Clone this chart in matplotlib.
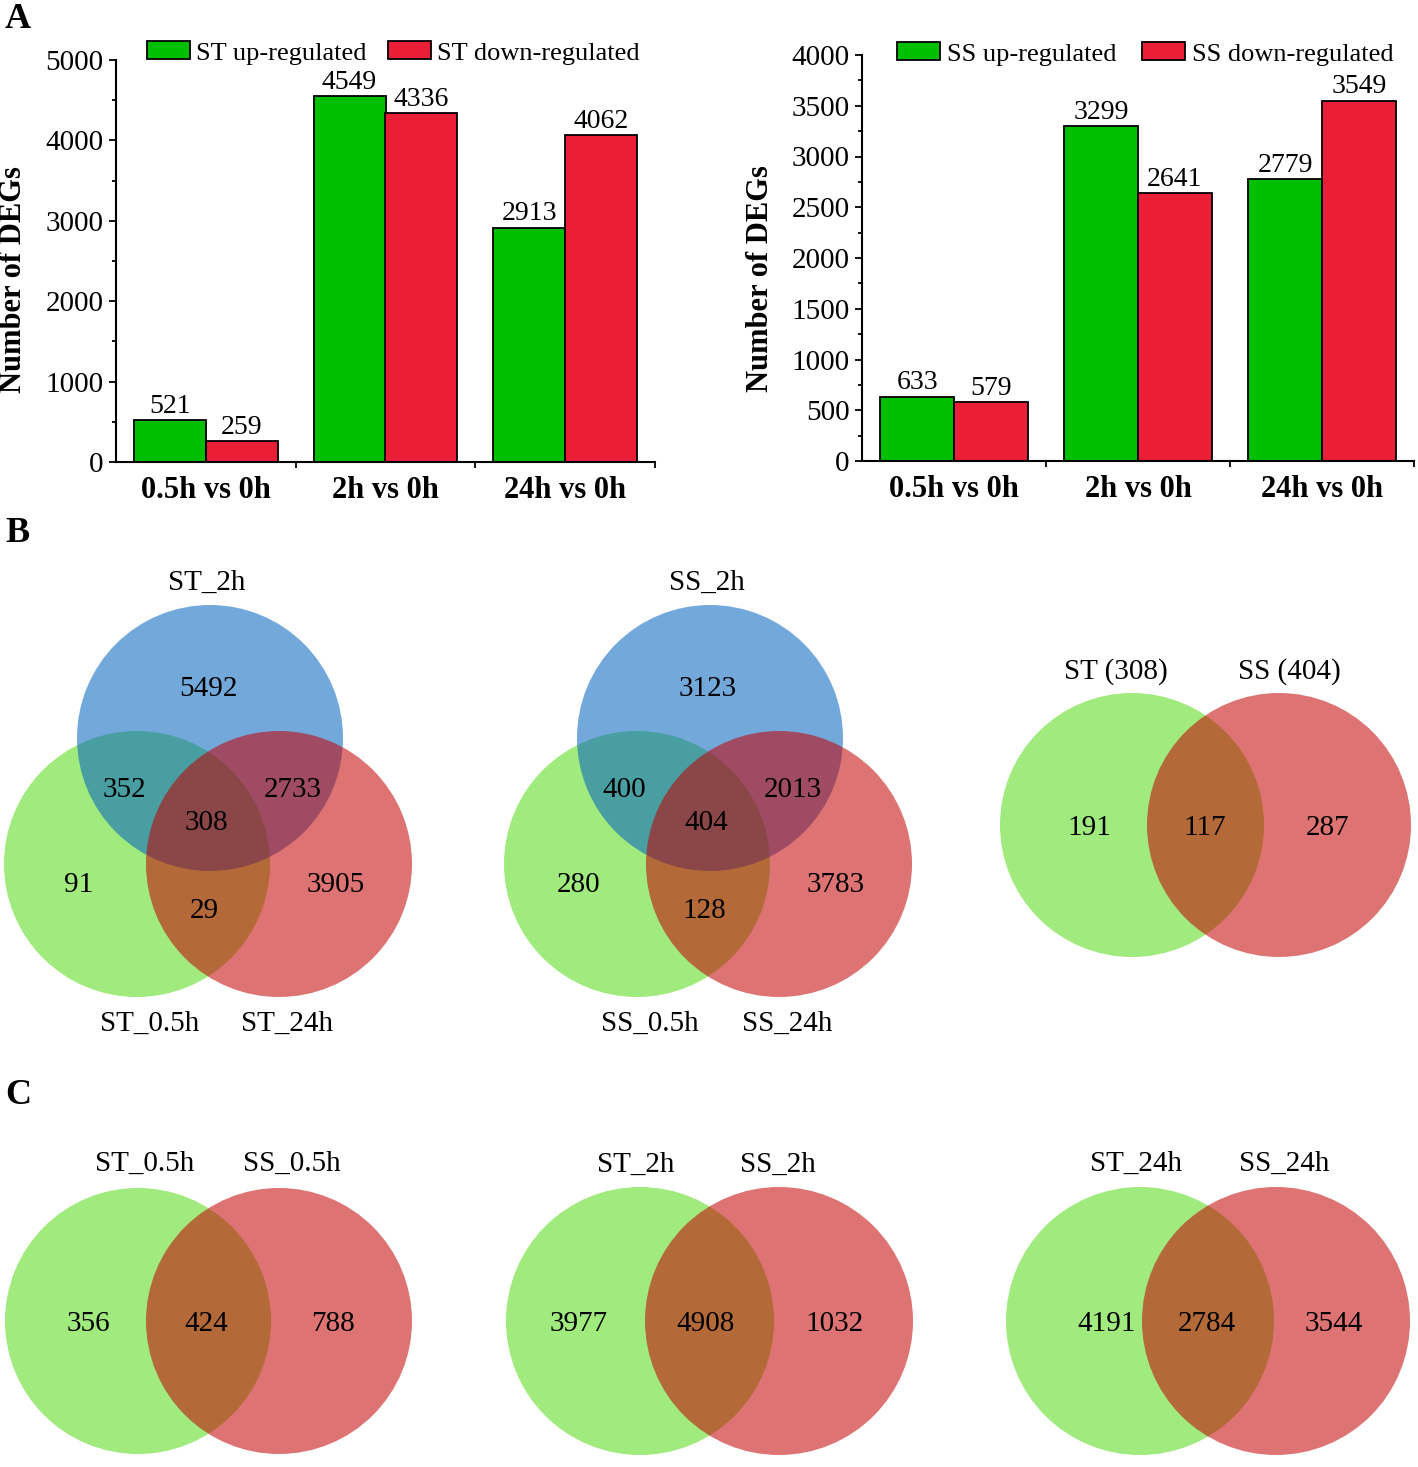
import matplotlib
matplotlib.use('Agg')
import matplotlib.pyplot as plt
from matplotlib.patches import Circle
from matplotlib.ticker import MultipleLocator
import numpy as np

plt.rcParams['font.family'] = ['Liberation Serif', 'DejaVu Serif']

# ---------------- data ----------------
comparisons = ['0.5h vs 0h', '2h vs 0h', '24h vs 0h']
st_up = [521, 4549, 2913]
st_down = [259, 4336, 4062]
ss_up = [633, 3299, 2779]
ss_down = [579, 2641, 3549]
st_legend = ['ST up-regulated', 'ST down-regulated']
ss_legend = ['SS up-regulated', 'SS down-regulated']

# 3-set venn: order [only 0.5h, only 2h, only 24h, 0.5h&2h, 2h&24h, 0.5h&24h, all]
st_sets = ['ST_0.5h', 'ST_2h', 'ST_24h']
st_counts = [91, 5492, 3905, 352, 2733, 29, 308]
ss_sets = ['SS_0.5h', 'SS_2h', 'SS_24h']
ss_counts = [280, 3123, 3783, 400, 2013, 128, 404]

# 2-set venns: [only A, A&B, only B]
core_sets = ['ST (308)', 'SS (404)']
core_counts = [191, 117, 287]
pair_sets = [['ST_0.5h', 'SS_0.5h'], ['ST_2h', 'SS_2h'], ['ST_24h', 'SS_24h']]
pair_counts = [[356, 424, 788], [3977, 4908, 1032], [4191, 2784, 3544]]

# ---------------- style ----------------
BAR_GREEN = '#00BF00'
BAR_RED = '#EB1E38'
V_GREEN = '#52D914'
V_BLUE = '#0061BF'
V_RED = '#C30000'
V_ALPHA = 0.55

W, H = 1418, 1467
fig = plt.figure(figsize=(W / 100, H / 100), dpi=100)

ov = fig.add_axes([0, 0, 1, 1])
ov.set_xlim(0, W)
ov.set_ylim(H, 0)
ov.set_aspect('equal')
ov.axis('off')


def bar_panel(rect_px, up, down, ymax, major, minor, leg_labels, leg_x, leg_y,
              textpad, colspace, ylab_coords):
    l, t, r, b = rect_px
    ax = fig.add_axes([l / W, 1 - b / H, (r - l) / W, (b - t) / H])
    x = np.arange(len(comparisons))
    w = 0.4
    b1 = ax.bar(x - w / 2, up, w, color=BAR_GREEN, edgecolor='black', linewidth=1.3,
                label=leg_labels[0])
    b2 = ax.bar(x + w / 2, down, w, color=BAR_RED, edgecolor='black', linewidth=1.3,
                label=leg_labels[1])
    ax.bar_label(b1, padding=1, fontsize=20)
    ax.bar_label(b2, padding=1, fontsize=20)
    ax.set_xlim(-0.5, 2.5)
    ax.set_ylim(0, ymax)
    for s in ['top', 'right']:
        ax.spines[s].set_visible(False)
    for s in ['left', 'bottom']:
        ax.spines[s].set_linewidth(1.5)
    ax.set_xticks(x)
    ax.set_xticklabels(comparisons, fontweight='bold', fontsize=22)
    ax.tick_params(axis='x', which='major', length=0, pad=10)
    ax.set_xticks([0.5, 1.5, 2.5], minor=True)
    ax.tick_params(axis='x', which='minor', length=4, width=1.3, direction='out')
    ax.yaxis.set_major_locator(MultipleLocator(major))
    ax.yaxis.set_minor_locator(MultipleLocator(minor))
    ax.tick_params(axis='y', which='major', length=5, width=1.3, labelsize=21, pad=4)
    ax.tick_params(axis='y', which='minor', length=3, width=1.3)
    ax.set_ylabel('Number of DEGs', fontweight='bold', fontsize=22)
    ax.yaxis.set_label_coords(*ylab_coords)
    ax.legend(loc='center left', bbox_to_anchor=(leg_x / W, 1 - leg_y / H),
              bbox_transform=fig.transFigure, ncol=2, frameon=False, fontsize=19,
              handlelength=1.63, handleheight=0.65, handletextpad=textpad,
              columnspacing=colspace, borderpad=0, borderaxespad=0)
    return ax


bar_panel((116, 60, 655, 462), st_up, st_down, 5000, 1000, 500, st_legend,
          147, 53, 0.23, 0.8, (-0.163, 0.455))
bar_panel((862, 55, 1414, 461), ss_up, ss_down, 4000, 500, 250, ss_legend,
          897, 54, 0.27, 0.95, (-0.158, 0.45))


def venn3(cx, cy, r, names, counts):
    # centers of green (A), blue (B), red (C) circles around centroid
    cA = (cx - 72, cy + 42)
    cB = (cx + 1, cy - 84)
    cC = (cx + 70, cy + 42)
    for c, col in [(cA, V_GREEN), (cB, V_BLUE), (cC, V_RED)]:
        ov.add_patch(Circle(c, r, facecolor=col, alpha=V_ALPHA, linewidth=0))
    offs = [(-130, 60), (-1, -136), (127, 60), (-85, -35), (84, -35), (-5, 86), (-3, -2)]
    for (dx, dy), n in zip(offs, counts):
        ov.text(cx + dx, cy + dy, str(n), fontsize=21, ha='center', va='center_baseline')
    ov.text(cx - 59, cy + 202, names[0], fontsize=21, ha='center', va='center')
    ov.text(cx - 2, cy - 239, names[1], fontsize=21, ha='center', va='center')
    ov.text(cx + 78, cy + 202, names[2], fontsize=21, ha='center', va='center')


def venn2(xa, xb, cy, r, names, counts, label_x, label_y, num_x):
    ov.add_patch(Circle((xa, cy), r, facecolor=V_GREEN, alpha=V_ALPHA, linewidth=0))
    ov.add_patch(Circle((xb, cy), r, facecolor=V_RED, alpha=V_ALPHA, linewidth=0))
    for nx, n in zip(num_x, counts):
        ov.text(nx, cy, str(n), fontsize=21, ha='center', va='center_baseline')
    for lx, nm in zip(label_x, names):
        ov.text(lx, label_y, nm, fontsize=21, ha='center', va='center')


venn3(209, 822, 133, st_sets, st_counts)
venn3(709, 822, 133, ss_sets, ss_counts)
venn2(1132, 1279, 825, 132, core_sets, core_counts, (1116, 1289), 672, (1089, 1205, 1328))

venn2(138, 279, 1321, 133, pair_sets[0], pair_counts[0], (145, 292), 1164, (88, 206, 333))
venn2(640, 779, 1321, 134, pair_sets[1], pair_counts[1], (636, 778), 1165, (579, 706, 834))
venn2(1140, 1276, 1321, 134, pair_sets[2], pair_counts[2], (1136, 1284), 1164, (1107, 1207, 1334))

for lab, (lx, ly) in zip(['A', 'B', 'C'], [(18, 20), (18, 533), (18, 1096)]):
    ov.text(lx, ly, lab, fontsize=26, fontweight='bold', ha='center', va='center')

fig.savefig('out.png', dpi=100)
